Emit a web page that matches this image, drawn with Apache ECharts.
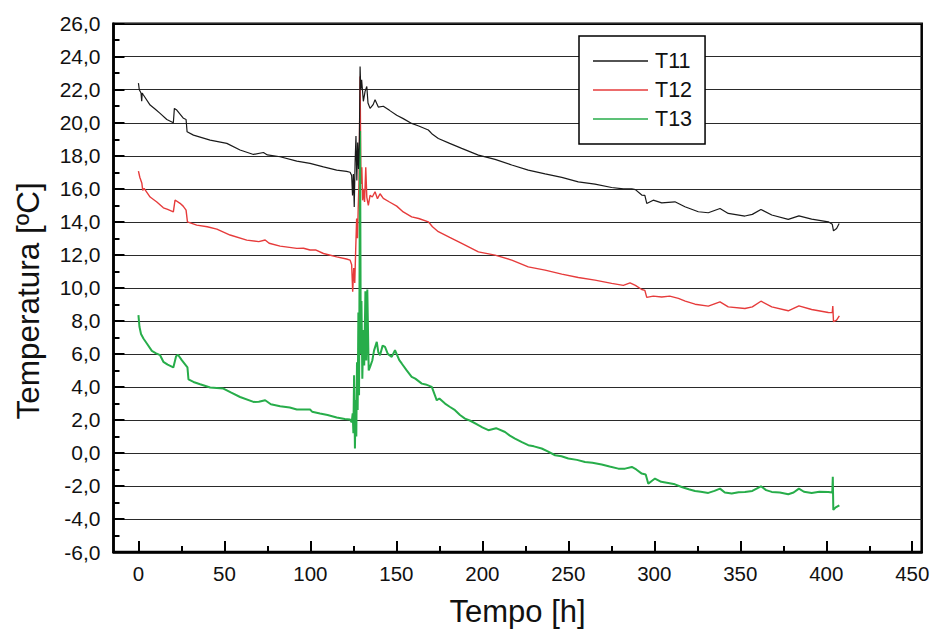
<!DOCTYPE html>
<html>
<head>
<meta charset="utf-8">
<script src="https://cdn.jsdelivr.net/npm/echarts@6/dist/echarts.min.js"></script>
<style>
  html, body { margin: 0; padding: 0; background: #fff; }
  #chart { width: 935px; height: 633px; }
</style>
</head>
<body>
<div id="chart"></div>
<script>
// Sensor names
const seriesNames = ['T11', 'T12', 'T13'];

// T11 readings: time [h] and temperature [ºC]
const t11Hours = [0, 0.5, 1.5, 1.9, 2.2, 2.9, 6.8, 10, 12.6, 16.5, 20.3, 20.9, 22.3, 26.2, 27.7, 28.3, 32, 41.7, 51.4, 59.1, 66.9, 72.7, 75, 82.4, 92.1, 99.8, 107.6, 115.3, 121, 123.1,
  124.0, 124.5, 125.0, 125.5, 126.0, 126.5, 127.0, 127.5, 128.0, 128.5, 128.9, 129.3, 129.8, 130.8, 131.8, 132.8, 133.5, 134.7, 136.5, 137.6, 139.5, 142.4, 146, 150.2,
  154, 158.9, 163, 168.6, 171, 174.4, 181, 188, 197.7, 207.4, 217.1, 226.7, 236.5, 246.2, 255.8, 265.5, 275.2, 282, 286.9, 289, 292.7, 294.5, 295.6, 299.4, 304.3,
  312, 317.8, 325.6, 331.4, 338.2, 343, 352.7, 357, 362, 368.3, 377.9, 384.1, 391.5, 401.2, 403.5, 404.2, 406, 407.5];
const t11Temp = [22.4, 22.0, 21.8, 21.3, 21.8, 21.68, 21.07, 20.8, 20.57, 20.2, 20.0, 20.87, 20.77, 20.27, 20.2, 19.45, 19.25, 18.95, 18.75, 18.35, 18.08, 18.2, 18.05, 17.94, 17.68, 17.54, 17.33, 17.13, 17.05, 17.0,
  16.8, 15.6, 16.9, 14.9, 17.6, 19.2, 16.5, 18.8, 17.2, 19.0, 23.4, 22.0, 22.6, 21.3, 21.9, 22.2, 21.2, 20.87, 21.1, 21.4, 20.95, 21.0, 20.75, 20.45,
  20.25, 19.96, 19.8, 19.56, 19.3, 19.05, 18.75, 18.45, 18.04, 17.78, 17.44, 17.13, 16.9, 16.69, 16.42, 16.28, 16.08, 16.0, 16.0, 15.95, 15.62, 15.6, 15.11, 15.31, 15.15,
  15.21, 14.91, 14.61, 14.55, 14.81, 14.51, 14.35, 14.45, 14.75, 14.41, 14.15, 14.36, 14.16, 14.0, 13.85, 13.45, 13.6, 13.9];

// T12 readings
const t12Hours = [0, 0.8, 2, 2.5, 3.3, 6.8, 10.7, 14.5, 17, 20.3, 21.3, 24.2, 26, 27.7, 28.5, 33.9, 40, 45.6, 53.3, 63, 70, 73.7, 76, 82.4, 92.1, 96, 99.8, 103, 107.6, 115.3, 121, 123.1,
  124.0, 124.6, 125.2, 125.8, 126.4, 126.9, 127.4, 127.8, 128.3, 128.9, 129.4, 129.9, 130.4, 130.8, 131.5, 132.2, 132.8, 133.7, 134.7, 136, 137.6, 139, 140.5, 142.4, 146, 150.2,
  154, 158.9, 163, 168.6, 171, 174.4, 181, 188, 197.7, 207.4, 217.1, 226.7, 236.5, 246.2, 255.8, 265.5, 275.2, 282, 285.9, 289, 292.7, 294.5, 295.6, 299.4, 304.3, 309,
  314, 318, 323.7, 331.4, 338.2, 343, 352.7, 357, 362, 368.3, 377.9, 384.1, 391.5, 401.2, 403.5, 403.8, 404.2, 406, 407.6];
const t12Temp = [17.07, 16.7, 16.33, 15.9, 16.02, 15.5, 15.2, 14.85, 14.75, 14.6, 15.32, 15.12, 14.95, 14.71, 14.0, 13.8, 13.7, 13.56, 13.2, 12.89, 12.8, 12.9, 12.7, 12.53, 12.39, 12.4, 12.29, 12.3, 12.08, 11.88, 11.75, 11.68,
  11.4, 9.76, 11.2, 10.3, 12.5, 14.2, 13.0, 14.8, 16.5, 22.8, 16.3, 17.3, 15.3, 16.0, 15.2, 17.3, 15.5, 15.0, 15.6, 15.5, 15.82, 15.4, 15.7, 15.42, 15.2, 14.95,
  14.6, 14.3, 14.2, 14.0, 13.7, 13.4, 13.05, 12.69, 12.18, 11.98, 11.68, 11.27, 11.07, 10.83, 10.63, 10.47, 10.27, 10.15, 10.3, 10.15, 9.9, 9.85, 9.42, 9.5, 9.45, 9.5,
  9.36, 9.2, 9.01, 8.89, 9.15, 8.85, 8.75, 8.85, 9.19, 8.85, 8.61, 8.91, 8.69, 8.51, 8.5, 8.9, 7.95, 8.05, 8.3];

// T13 readings
const t13Hours = [0, 0.6, 1.5, 2.9, 4.9, 7.8, 10, 12.6, 14.5, 17, 20.3, 21.9, 23, 25.2, 28.5, 29.1, 32, 35.9, 41.7, 49.4, 54, 59.1, 66.9, 70, 73.7, 77, 82.4, 88, 92.1, 99.8, 101, 105.6, 110, 115.3, 120, 123.1,
  124, 124.6, 125.0, 125.4, 125.9, 126.3, 126.7, 127.1, 127.5, 127.9, 128.3, 128.9, 129.3, 129.7, 130.2, 130.8, 131.3, 132, 132.5, 133.1, 133.9, 134.7, 136, 137, 138.6, 139.5, 140.5, 142, 143.4, 145, 147.3, 149.2, 151.7,
  153.1, 156, 158.9, 161, 164.8, 167, 170.6, 173.5, 175, 178.3, 181, 184.1, 187, 189.9, 193, 197.7, 200, 203.5, 208, 213.2, 216, 219, 223, 226.7, 230, 234.5, 238, 242.3, 246, 250, 255, 259.7, 264, 269.4, 274, 279.1, 283, 286.9,
  289.5, 292.7, 295, 296.5, 298.5, 300.4, 304, 308.1, 312, 315.9, 320, 323.7, 327, 331.4, 335, 338.2, 341, 345, 349, 352.7, 357, 362, 365, 368.3, 373, 377.9, 381, 384.1, 387, 391.5, 396, 401.2, 403.5, 403.8, 404.1, 405.5, 407.6];
const t13Temp = [8.35, 7.64, 7.2, 6.93, 6.63, 6.18, 6.05, 5.92, 5.52, 5.35, 5.18, 5.86, 5.95, 5.62, 5.18, 4.45, 4.3, 4.16, 3.96, 3.9, 3.65, 3.39, 3.09, 3.1, 3.19, 2.95, 2.83, 2.75, 2.63, 2.63, 2.5, 2.39, 2.3, 2.15, 2.05, 2.03,
  1.85, 2.4, 1.2, 4.71, 0.27, 3.2, 1.0, 5.5, 2.6, 8.5, 3.5, 19.5, 6.0, 9.2, 4.5, 7.44, 5.3, 9.8, 5.6, 9.9, 5.0, 5.21, 5.6, 6.2, 6.73, 6.1, 5.92, 6.5, 6.42, 6.0, 5.82, 6.22, 5.62,
  5.42, 5.0, 4.61, 4.5, 4.2, 4.15, 4.0, 3.19, 3.3, 2.99, 2.8, 2.59, 2.3, 2.08, 1.95, 1.68, 1.55, 1.38, 1.5, 1.27, 1.05, 0.87, 0.65, 0.47, 0.4, 0.27, 0.1, -0.14, -0.2, -0.34, -0.42, -0.55, -0.6, -0.7, -0.82, -0.95, -0.95, -0.85,
  -1.0, -1.25, -1.3, -1.86, -1.7, -1.55, -1.75, -1.82, -1.9, -2.06, -2.2, -2.3, -2.35, -2.42, -2.3, -2.16, -2.4, -2.46, -2.38, -2.36, -2.3, -2.02, -2.25, -2.36, -2.4, -2.5, -2.4, -2.16, -2.35, -2.42, -2.35, -2.36, -2.4, -1.45, -3.45, -3.3, -3.17];

// Axis ticks
const xMajorTicks = [0, 50, 100, 150, 200, 250, 300, 350, 400, 450];
const xMinorTicks = [25, 75, 125, 175, 225, 275, 325, 375, 425];

function pairs(hours, temps) {
  return hours.map((h, i) => [h, temps[i]]);
}

const FONT = '"Liberation Sans", Arial, sans-serif';
const X_MIN = -14.5, X_MAX = 455.5;

const chart = echarts.init(document.getElementById('chart'), null, { renderer: 'svg' });
chart.setOption({
  animation: false,
  backgroundColor: '#fff',
  grid: {
    left: 113.5, right: 13.3, top: 23.7, bottom: 81,
    show: true, borderColor: '#000', borderWidth: 2.5, backgroundColor: 'transparent'
  },
  xAxis: [{
    type: 'value', min: X_MIN, max: X_MAX, position: 'bottom',
    axisLine: { show: true, onZero: false, lineStyle: { color: '#000', width: 2.5 } },
    axisTick: { show: true, inside: true, length: 11, customValues: xMajorTicks, lineStyle: { color: '#000', width: 2 } },
    axisLabel: { customValues: xMajorTicks, fontSize: 20.5, color: '#111', margin: 11, fontFamily: FONT },
    splitLine: { show: false },
    name: 'Tempo [h]', nameLocation: 'middle', nameGap: 44,
    nameTextStyle: { fontSize: 31, color: '#111', fontFamily: FONT }
  }, {
    type: 'value', min: X_MIN, max: X_MAX, position: 'bottom',
    axisLine: { show: false, onZero: false },
    axisTick: { show: true, inside: true, length: 6, customValues: xMinorTicks, lineStyle: { color: '#000', width: 2 } },
    axisLabel: { show: false },
    splitLine: { show: false }
  }],
  yAxis: {
    type: 'value', min: -6, max: 26, interval: 2,
    axisLine: { show: true, onZero: false, lineStyle: { color: '#000', width: 2.5 } },
    axisTick: { show: true, inside: true, length: 11, lineStyle: { color: '#000', width: 2 } },
    minorTick: { show: true, splitNumber: 2, length: 6, lineStyle: { color: '#000', width: 2 } },
    axisLabel: {
      fontSize: 21, color: '#111', margin: 13, fontFamily: FONT,
      formatter: v => v.toFixed(1).replace('.', ',')
    },
    splitLine: { show: true, lineStyle: { color: '#2a2a2a', width: 1.2 } },
    name: 'Temperatura [ºC]', nameLocation: 'middle', nameGap: 70, nameRotate: 90,
    nameTextStyle: { fontSize: 31.5, color: '#111', fontFamily: FONT, padding: [0, 26, 0, 0] }
  },
  legend: {
    data: seriesNames,
    orient: 'vertical', left: 579, top: 36,
    backgroundColor: '#fff', borderColor: '#000', borderWidth: 1.5,
    padding: [14, 13, 14, 14], itemGap: 7,
    icon: 'rect', itemWidth: 55, itemHeight: 1.5,
    textStyle: { fontSize: 21.5, lineHeight: 22, color: '#111', fontFamily: FONT, padding: [0, 0, 0, 2] }
  },
  series: [{
    name: 'T12', type: 'line', data: pairs(t12Hours, t12Temp),
    showSymbol: false, symbol: 'none', color: '#e63b3b',
    lineStyle: { width: 1.4, color: '#e63b3b' }, z: 2
  }, {
    name: 'T13', type: 'line', data: pairs(t13Hours, t13Temp),
    showSymbol: false, symbol: 'none', color: '#27ad4a',
    lineStyle: { width: 2, color: '#27ad4a' }, z: 3
  }, {
    name: 'T11', type: 'line', data: pairs(t11Hours, t11Temp),
    showSymbol: false, symbol: 'none', color: '#1a1a1a',
    lineStyle: { width: 1.2, color: '#1a1a1a' }, z: 4
  }]
});
</script>
</body>
</html>
